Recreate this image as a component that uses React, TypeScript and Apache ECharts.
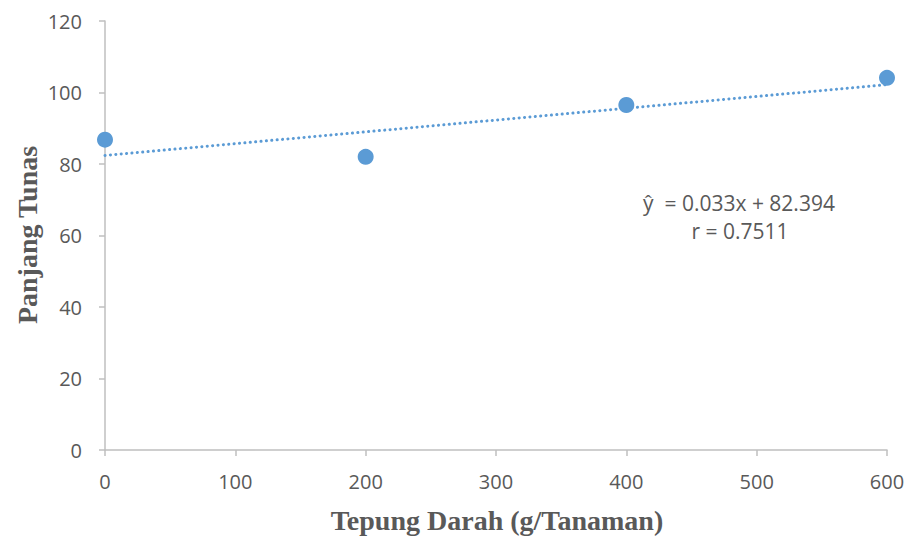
import React, { useEffect, useRef } from "react";
import * as echarts from "echarts";

const xValues = [0, 200, 400, 600];
const yValues = [86.8, 82.0, 96.5, 104.1];
const trendX = [0, 600];
const trendY = [82.394, 102.194];
const xTicks = { min: 0, max: 600, interval: 100 };
const yTicks = { min: 0, max: 120, interval: 20 };
const equationText = "ŷ  = 0.033x + 82.394";
const rText = "r = 0.7511";
const xTitle = "Tepung Darah (g/Tanaman)";
const yTitle = "Panjang Tunas";

export default function App() {
  const ref = useRef<HTMLDivElement>(null);
  useEffect(() => {
    if (!ref.current) return;
    const chart = echarts.init(ref.current, undefined, { renderer: "svg" });
    const axisColor = "#bfbfbf";
    const labelColor = "#595959";
    const labelFont = "Open Sans";
    chart.setOption({
      animation: false,
      backgroundColor: "#ffffff",
      grid: { left: 105, right: 23, top: 21, bottom: 86 },
      xAxis: {
        type: "value",
        min: xTicks.min,
        max: xTicks.max,
        interval: xTicks.interval,
        splitLine: { show: false },
        axisLine: { show: true, lineStyle: { color: axisColor, width: 1.5 } },
        axisTick: { show: true, length: 6, lineStyle: { color: axisColor, width: 1.5 } },
        axisLabel: { color: labelColor, fontSize: 20, fontFamily: labelFont, margin: 21 },
      },
      yAxis: {
        type: "value",
        min: yTicks.min,
        max: yTicks.max,
        interval: yTicks.interval,
        splitLine: { show: false },
        axisLine: { show: true, lineStyle: { color: axisColor, width: 1.5 } },
        axisTick: { show: true, length: 6, lineStyle: { color: axisColor, width: 1.5 } },
        axisLabel: { color: labelColor, fontSize: 20, fontFamily: labelFont, margin: 23 },
      },
      series: [
        {
          type: "line",
          data: trendX.map((x, i) => [x, trendY[i]]),
          showSymbol: false,
          symbol: "none",
          lineStyle: { color: "#5b9bd5", width: 3, type: [0.1, 5.3], cap: "round" },
          z: 2,
        },
        {
          type: "scatter",
          data: xValues.map((x, i) => [x, yValues[i]]),
          symbol: "circle",
          symbolSize: 16,
          itemStyle: { color: "#5b9bd5", opacity: 1 },
          z: 3,
        },
      ],
      graphic: [
        {
          type: "text",
          x: 643,
          y: 203,
          style: { text: equationText, fill: labelColor, font: "21px 'Open Sans'", verticalAlign: "middle" },
        },
        {
          type: "text",
          x: 740,
          y: 231,
          style: { text: rText, fill: labelColor, font: "21px 'Open Sans'", align: "center", verticalAlign: "middle" },
        },
        {
          type: "text",
          x: 497,
          y: 520,
          style: {
            text: xTitle,
            fill: labelColor,
            font: "bold 28px 'Liberation Serif'",
            align: "center",
            verticalAlign: "middle",
          },
        },
        {
          type: "text",
          x: 27,
          y: 235,
          rotation: Math.PI / 2,
          style: {
            text: yTitle,
            fill: labelColor,
            font: "bold 28px 'Liberation Serif'",
            align: "center",
            verticalAlign: "middle",
          },
        },
      ],
    });
    return () => chart.dispose();
  }, []);
  return <div ref={ref} style={{ width: 910, height: 536, position: "absolute", left: 0, top: 0 }} />;
}
